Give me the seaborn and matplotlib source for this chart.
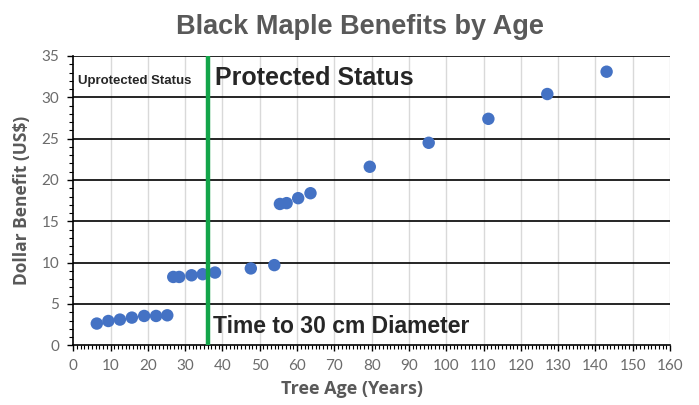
import matplotlib
matplotlib.use("Agg")
import matplotlib.pyplot as plt
import seaborn as sns
import pandas as pd
from matplotlib.ticker import MultipleLocator

age = [6.3, 9.4, 12.5, 15.7, 19.0, 22.2, 25.2, 26.8, 28.4, 31.7, 34.7, 38.0,
       47.6, 53.9, 55.4, 57.2, 60.3, 63.6, 79.5, 95.3, 111.3, 127.1, 143.0]
benefit = [2.63, 2.94, 3.11, 3.35, 3.55, 3.55, 3.63, 8.27, 8.27, 8.47, 8.6, 8.8,
           9.3, 9.7, 17.1, 17.2, 17.8, 18.4, 21.6, 24.5, 27.4, 30.4, 33.1]
threshold_age = 36
x_ticks = list(range(0, 161, 10))
y_ticks = list(range(0, 36, 5))

df = pd.DataFrame({"age": age, "benefit": benefit})

sns.set_theme(style="white")
plt.rcParams['font.family'] = ['Liberation Sans', 'DejaVu Sans']

fig = plt.figure(figsize=(6.99, 4.05), dpi=100)
ax = fig.add_axes([73.3/699, 1-345.3/405, (670-73.3)/699, (345.3-56)/405])

sns.scatterplot(data=df, x="age", y="benefit", ax=ax, color="#4472C4",
                s=80, edgecolor="none", zorder=3)

ax.set_xlim(0, 160)
ax.set_ylim(0, 35)
ax.set_xticks(x_ticks)
ax.set_yticks(y_ticks)
ax.xaxis.set_minor_locator(MultipleLocator(1))
ax.yaxis.set_minor_locator(MultipleLocator(1))

ax.grid(False)
for xv in x_ticks[1:]:
    ax.axvline(xv, color="#d9d9d9", lw=1.0, zorder=0)
for yv in y_ticks[1:]:
    ax.axhline(yv, color="black", lw=1.2, zorder=1)

ax.axvline(threshold_age, color="#13a54a", lw=3.2, zorder=4)

for s in ["top", "right"]:
    ax.spines[s].set_visible(False)
for s in ["left", "bottom"]:
    ax.spines[s].set_color("black")
    ax.spines[s].set_linewidth(1.2)

ax.tick_params(axis="both", which="major", direction="out", length=4, width=1,
               color="black", labelsize=11, labelcolor="#6b6b6b", pad=6)
ax.tick_params(axis="both", which="minor", direction="out", length=3, width=0.8,
               color="black")
ax.tick_params(axis="x", which="both", bottom=True)
ax.tick_params(axis="y", which="both", left=True)
for lbl in ax.get_xticklabels() + ax.get_yticklabels():
    lbl.set_family(["Lato", "DejaVu Sans"])

ax.set_xlabel("")
ax.set_ylabel("Dollar Benefit (US$)", fontsize=12.5, fontweight="bold", color="#595959",
              labelpad=8, family=["Open Sans", "DejaVu Sans"])
fig.text(352/699, 1-389/405, "Tree Age (Years)", ha="center", va="center",
         fontsize=13, fontweight="bold", color="#595959",
         family=["Open Sans", "DejaVu Sans"])

fig.text(360/699, 1-27/405, "Black Maple Benefits by Age", ha="center", va="center",
         fontsize=19.5, fontweight="bold", color="#595959")

ax.text(1.3, 32, "Uprotected Status", fontsize=9.5, fontweight="bold",
        color="#262626", va="center", ha="left")
ax.text(38, 32.3, "Protected Status", fontsize=18, fontweight="bold",
        color="#262626", va="center", ha="left")
ax.text(37.5, 2.3, "Time to 30 cm Diameter", fontsize=16.5, fontweight="bold",
        color="#262626", va="center", ha="left")

fig.savefig("out.png", dpi=100)
